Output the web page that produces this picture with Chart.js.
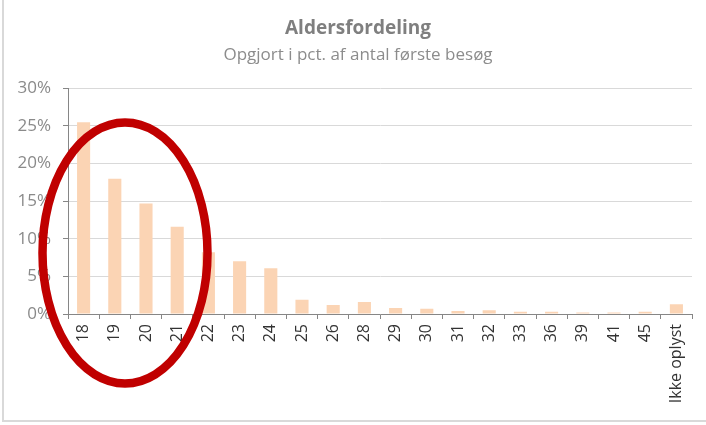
<!DOCTYPE html>
<html>
<head>
<meta charset="utf-8">
<script src="https://cdn.jsdelivr.net/npm/chart.js@4"></script>
<style>
    body { margin: 0; background: #fff; }
    #wrap { position: relative; width: 706px; height: 425px; }
    #frame-left { position: absolute; left: 2px; top: 0; width: 2px; height: 422px; background: #d9d9d9; }
    #frame-bottom { position: absolute; left: 2px; top: 420px; width: 704px; height: 2px; background: #d9d9d9; }
</style>
</head>
<body>
<div id="wrap">
    <canvas id="ageChart" width="706" height="425"></canvas>
    <div id="frame-left"></div>
    <div id="frame-bottom"></div>
</div>
<script>
const ageLabels = ['18', '19', '20', '21', '22', '23', '24', '25', '26', '28', '29', '30', '31', '32', '33', '36', '39', '41', '45', 'Ikke oplyst'];
const sharePct = [25.5, 18.0, 14.7, 11.6, 8.2, 7.0, 6.1, 1.9, 1.2, 1.6, 0.8, 0.7, 0.4, 0.5, 0.3, 0.3, 0.2, 0.2, 0.3, 1.3];
const yTicks = [0, 5, 10, 15, 20, 25, 30];

const chartTitle = 'Aldersfordeling';
const chartSubtitle = 'Opgjort i pct. af antal første besøg';

document.addEventListener("DOMContentLoaded", () => {
    const ctx = document.getElementById('ageChart').getContext('2d');

    // red ring drawn on top of the chart, like the marker in the screenshot
    const ringPlugin = {
        id: 'ring',
        afterDraw(chart) {
            const c = chart.ctx;
            c.save();
            c.beginPath();
            c.ellipse(125, 253, 82.5, 130.5, 0, 0, Math.PI * 2);
            c.lineWidth = 8.5;
            c.strokeStyle = '#c00000';
            c.stroke();
            c.restore();
        }
    };

    new Chart(ctx, {
        type: 'bar',
        data: {
            labels: ageLabels,
            datasets: [{
                data: sharePct,
                backgroundColor: '#fbd4b4',
                borderWidth: 0,
                barPercentage: 0.42,
                categoryPercentage: 1
            }]
        },
        options: {
            responsive: false,
            animation: false,
            // negative right padding widens the title box so the titles sit a bit right of centre
            layout: { padding: { left: 0, right: -10, top: 0, bottom: 0 } },
            plugins: {
                legend: { display: false },
                tooltip: { enabled: false },
                title: {
                    display: true,
                    text: chartTitle,
                    color: '#7f7f7f',
                    font: { family: 'Open Sans', size: 19, weight: 'bold' },
                    padding: { top: 17, bottom: 0 }
                },
                subtitle: {
                    display: true,
                    text: chartSubtitle,
                    color: '#8c8c8c',
                    font: { family: 'Open Sans', size: 17 },
                    padding: { top: 5, bottom: 23.2 }
                }
            },
            scales: {
                x: {
                    offset: true,
                    grid: {
                        display: true,
                        drawOnChartArea: false,
                        offset: true,
                        tickLength: 5,
                        tickColor: '#868686'
                    },
                    border: { color: '#868686', width: 1 },
                    ticks: {
                        color: '#333333',
                        font: { family: 'Open Sans', size: 16 },
                        minRotation: 90,
                        maxRotation: 90,
                        padding: 5,
                        autoSkip: false
                    },
                    afterFit(scale) {
                        scale.height = 111;
                        scale.paddingLeft = 0;
                        scale.paddingRight = 14;
                    }
                },
                y: {
                    min: 0,
                    max: 30,
                    afterBuildTicks(scale) {
                        scale.ticks = yTicks.map(v => ({ value: v }));
                    },
                    grid: {
                        color: '#d9d9d9',
                        tickColor: '#868686',
                        tickLength: 5
                    },
                    border: { color: '#868686', width: 1 },
                    ticks: {
                        color: '#8a8a8a',
                        font: { family: 'Open Sans', size: 17 },
                        padding: 12,
                        callback: v => v + '%'
                    },
                    afterFit(scale) {
                        scale.width = 68;
                        scale.paddingTop = 0;
                        scale.paddingBottom = 0;
                    }
                }
            }
        },
        plugins: [ringPlugin]
    });
});
</script>
</body>
</html>
